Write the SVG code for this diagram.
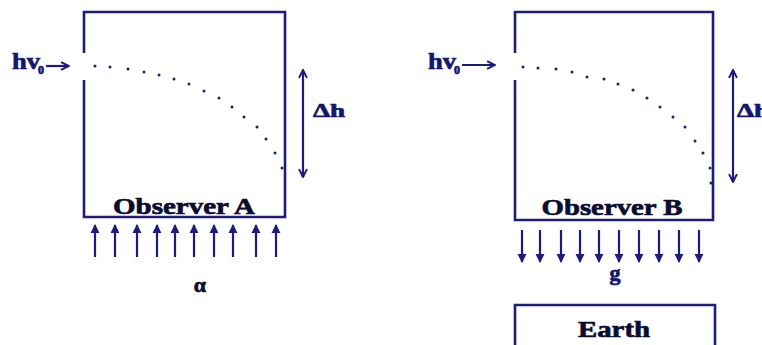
<svg xmlns="http://www.w3.org/2000/svg" width="762" height="345" viewBox="0 0 762 345">
<defs>
<style>
.box{fill:none;stroke:#1c1c7c;stroke-width:2.6}
.ln{stroke:#1c1c7c;stroke-width:2.2;fill:none}
.dot{fill:#1c1c7c}
.t{font-family:"Liberation Serif","Times New Roman",serif;font-weight:bold;stroke-width:0.7}
.obs{font-size:24px;fill:#0c0c30;stroke:#0c0c30}
.nv{fill:#16166e;stroke:#16166e}
</style>
<marker id="tri" viewBox="0 0 10 10" refX="9" refY="5" markerWidth="4.2" markerHeight="4.2" orient="auto-start-reverse" markerUnits="strokeWidth">
<path d="M0,0 L10,5 L0,10 z" fill="#1c1c7c"/>
</marker>
<marker id="chev" viewBox="0 0 10 10" refX="9" refY="5" markerWidth="4.5" markerHeight="4.5" orient="auto-start-reverse" markerUnits="strokeWidth">
<path d="M1,1 L9,5 L1,9" fill="none" stroke="#1c1c7c" stroke-width="2"/>
</marker>
</defs>
<rect width="762" height="345" fill="#fff"/>

<g id="boxA">
<path class="box" d="M84,53 V12 H285 V217 H84 V80"/>
<text class="t obs" x="184" y="214" text-anchor="middle" textLength="142" lengthAdjust="spacingAndGlyphs">Observer A</text>
</g>

<g id="boxB">
<path class="box" d="M515,53 V12 H713 V220 H515 V80"/>
<text class="t obs" x="612" y="215" text-anchor="middle" textLength="141" lengthAdjust="spacingAndGlyphs">Observer B</text>
</g>

<g id="earth">
<path class="box" d="M515,345 V305 H715 V345"/>
<text class="t obs" x="614" y="337" text-anchor="middle" textLength="72" lengthAdjust="spacingAndGlyphs">Earth</text>
</g>

<g id="labels">
<text class="t nv" x="12" y="69" font-size="23" textLength="28" lengthAdjust="spacingAndGlyphs">hv</text>
<text class="t nv" x="38" y="74" font-size="12">0</text>
<text class="t nv" x="428" y="69" font-size="23" textLength="28" lengthAdjust="spacingAndGlyphs">hv</text>
<text class="t nv" x="454" y="74" font-size="12">0</text>
<text class="t nv" x="313" y="117" font-size="19" textLength="32" lengthAdjust="spacingAndGlyphs">Δh</text>
<text class="t nv" x="737" y="117" font-size="19" textLength="32" lengthAdjust="spacingAndGlyphs">Δh</text>
<text class="t" x="200" y="292" font-size="22" text-anchor="middle" fill="#0c0c30" stroke="#0c0c30">α</text>
<text class="t nv" x="615" y="280" font-size="22" text-anchor="middle">g</text>
</g>

<g id="connectors">
<line class="ln" x1="46" y1="66" x2="69" y2="66" marker-end="url(#chev)"/>
<line class="ln" x1="462" y1="65" x2="495" y2="65" marker-end="url(#chev)"/>
<line class="ln" x1="303" y1="70" x2="303" y2="177" marker-start="url(#chev)" marker-end="url(#chev)"/>
<line class="ln" x1="733" y1="70" x2="733" y2="182" marker-start="url(#chev)" marker-end="url(#chev)"/>
<g id="upArrows">
<line class="ln" x1="95" y1="257" x2="95" y2="225" marker-end="url(#tri)"/>
<line class="ln" x1="115" y1="257" x2="115" y2="225" marker-end="url(#tri)"/>
<line class="ln" x1="137" y1="257" x2="137" y2="225" marker-end="url(#tri)"/>
<line class="ln" x1="157" y1="257" x2="157" y2="225" marker-end="url(#tri)"/>
<line class="ln" x1="175" y1="257" x2="175" y2="225" marker-end="url(#tri)"/>
<line class="ln" x1="194" y1="257" x2="194" y2="225" marker-end="url(#tri)"/>
<line class="ln" x1="214" y1="257" x2="214" y2="225" marker-end="url(#tri)"/>
<line class="ln" x1="233" y1="257" x2="233" y2="225" marker-end="url(#tri)"/>
<line class="ln" x1="256" y1="257" x2="256" y2="225" marker-end="url(#tri)"/>
<line class="ln" x1="276" y1="257" x2="276" y2="225" marker-end="url(#tri)"/>
</g>
<g id="downArrows">
<line class="ln" x1="522" y1="230" x2="522" y2="262" marker-end="url(#tri)"/>
<line class="ln" x1="540" y1="230" x2="540" y2="262" marker-end="url(#tri)"/>
<line class="ln" x1="561" y1="230" x2="561" y2="262" marker-end="url(#tri)"/>
<line class="ln" x1="580" y1="230" x2="580" y2="262" marker-end="url(#tri)"/>
<line class="ln" x1="599" y1="230" x2="599" y2="262" marker-end="url(#tri)"/>
<line class="ln" x1="619" y1="230" x2="619" y2="262" marker-end="url(#tri)"/>
<line class="ln" x1="639" y1="230" x2="639" y2="262" marker-end="url(#tri)"/>
<line class="ln" x1="659" y1="230" x2="659" y2="262" marker-end="url(#tri)"/>
<line class="ln" x1="679" y1="230" x2="679" y2="262" marker-end="url(#tri)"/>
<line class="ln" x1="699" y1="230" x2="699" y2="262" marker-end="url(#tri)"/>
</g>
<g id="pathA">
<circle class="dot" cx="95" cy="66" r="1.5"/>
<circle class="dot" cx="110" cy="67" r="1.5"/>
<circle class="dot" cx="128" cy="69" r="1.5"/>
<circle class="dot" cx="144" cy="72" r="1.5"/>
<circle class="dot" cx="159" cy="75" r="1.5"/>
<circle class="dot" cx="174" cy="79" r="1.5"/>
<circle class="dot" cx="189" cy="84" r="1.5"/>
<circle class="dot" cx="204" cy="91" r="1.5"/>
<circle class="dot" cx="219" cy="98" r="1.5"/>
<circle class="dot" cx="232" cy="107" r="1.5"/>
<circle class="dot" cx="244" cy="117" r="1.5"/>
<circle class="dot" cx="257" cy="127" r="1.5"/>
<circle class="dot" cx="266" cy="139" r="1.5"/>
<circle class="dot" cx="275" cy="153" r="1.5"/>
<circle class="dot" cx="282" cy="168" r="1.5"/>
</g>
<g id="pathB">
<circle class="dot" cx="523" cy="67" r="1.5"/>
<circle class="dot" cx="538" cy="68" r="1.5"/>
<circle class="dot" cx="556" cy="69" r="1.5"/>
<circle class="dot" cx="572" cy="72" r="1.5"/>
<circle class="dot" cx="587" cy="77" r="1.5"/>
<circle class="dot" cx="604" cy="79" r="1.5"/>
<circle class="dot" cx="618" cy="84" r="1.5"/>
<circle class="dot" cx="633" cy="90" r="1.5"/>
<circle class="dot" cx="647" cy="98" r="1.5"/>
<circle class="dot" cx="660" cy="107" r="1.5"/>
<circle class="dot" cx="673" cy="117" r="1.5"/>
<circle class="dot" cx="685" cy="127" r="1.5"/>
<circle class="dot" cx="695" cy="141" r="1.5"/>
<circle class="dot" cx="703" cy="153" r="1.5"/>
<circle class="dot" cx="710" cy="168" r="1.5"/>
<circle class="dot" cx="711" cy="183" r="1.5"/>
</g>
</g>
</svg>
